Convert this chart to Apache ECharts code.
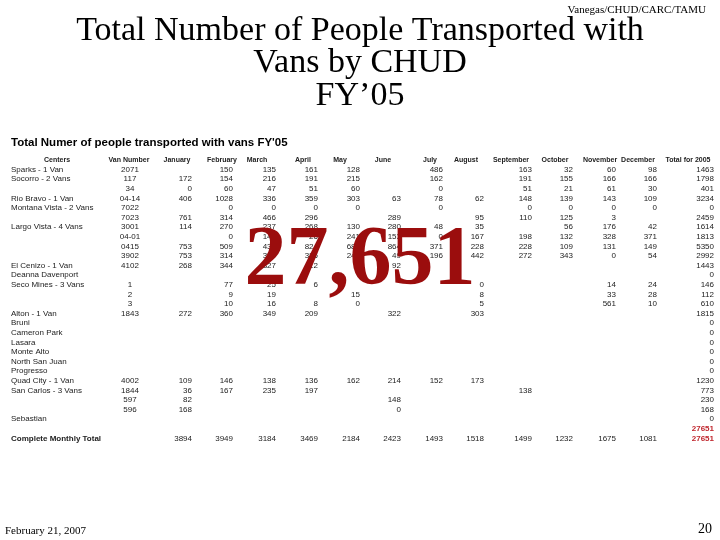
<!DOCTYPE html>
<html>
<head>
<meta charset="utf-8">
<script src="https://cdn.jsdelivr.net/npm/echarts@6/dist/echarts.min.js"></script>
<style>html,body{margin:0;padding:0;background:#fff}#main{width:720px;height:540px}</style>
</head>
<body>
<div id="main"></div>
<script>
// table data
const headers = ['Centers','Van Number','January','February','March','April','May','June','July','August','September','October','November','December','Total for 2005'];
const centers = ['Sparks - 1 Van','Socorro - 2 Vans','','Rio Bravo - 1 Van','Montana Vista - 2 Vans','','Largo Vista - 4 Vans','','','','El Cenizo - 1 Van','Deanna Davenport','Seco Mines - 3 Vans','','','Alton - 1 Van','Bruni','Cameron Park','Lasara','Monte Alto','North San Juan','Progresso','Quad City - 1 Van','San Carlos - 3 Vans','','','Sebastian','','Complete Monthly Total'];
const vanNumbers = ['2071','117','34','04-14','7022','7023','3001','04-01','0415','3902','4102','','1','2','3','1843','','','','','','','4002','1844','597','596','','',''];
const monthly = [
  [null,150,135,161,128,null,486,null,163,32,60,98],
  [172,154,216,191,215,null,162,null,191,155,166,166],
  [0,60,47,51,60,null,0,null,51,21,61,30],
  [406,1028,336,359,303,63,78,62,148,139,143,109],
  [null,0,0,0,0,null,0,null,0,0,0,0],
  [761,314,466,296,null,289,null,95,110,125,3,null],
  [114,270,237,268,130,280,48,35,null,56,176,42],
  [null,0,147,26,241,153,0,167,198,132,328,371],
  [753,509,431,824,683,864,371,228,228,109,131,149],
  [753,314,320,326,241,49,196,442,272,343,0,54],
  [268,344,327,412,null,92,null,null,null,null,null,null],
  [],
  [null,77,25,6,null,null,null,0,null,null,14,24],
  [null,9,19,null,15,null,null,8,null,null,33,28],
  [null,10,16,8,0,null,null,5,null,null,561,10],
  [272,360,349,209,null,322,null,303],
  [],[],[],[],[],[],
  [109,146,138,136,162,214,152,173],
  [36,167,235,197,null,null,null,null,138],
  [82,null,null,null,null,148],
  [168,null,null,null,null,0],
  [],
  [],
  [3894,3949,3184,3469,2184,2423,1493,1518,1499,1232,1675,1081]
];
const totals = [1463,1798,401,3234,0,2459,1614,1813,5350,2992,1443,0,146,112,610,1815,0,0,0,0,0,0,1230,773,230,168,0,27651,27651];

const headerX = [57,129,177,222,257,303,340,383,430,466,511,555,600,638,688];
const monthRight = [192,233,276,318,360,401,443,484,532,573,616,657];
const totalRight = 714;

const g = [];
const T = (x, y, text, style) => g.push({type:'text', x, y, style:Object.assign({text, fontFamily:'Liberation Sans, Arial', fontSize:8, fill:'#222', verticalAlign:'middle'}, style)});

T(706, 10, 'Vanegas/CHUD/CARC/TAMU', {fontFamily:'Liberation Serif', fontSize:11, fill:'#000', align:'right'});
['Total Number of People Transported with','Vans by CHUD','FY\u201905'].forEach((s, i) =>
  T(360, 31 + i * 32.5, s, {fontFamily:'Liberation Serif', fontSize:34, fill:'#000', align:'center'}));
T(11, 143, 'Total Numer of people transported with vans FY\'05', {fontSize:11.5, fontWeight:'bold', fill:'#000'});

headers.forEach((h, i) => T(headerX[i], 160, h, {fontSize:7, fontWeight:'bold', align:'center'}));

centers.forEach((c, r) => {
  const y = 169.5 + r * 9.6;
  const last = r === centers.length - 1;
  T(11, y, c, last ? {fontWeight:'bold', fontSize:8} : {});
  if (vanNumbers[r]) T(130, y, vanNumbers[r], {align:'center'});
  (monthly[r] || []).forEach((v, m) => { if (v !== null && v !== undefined) T(monthRight[m], y, String(v), {align:'right'}); });
  const red = totals[r] === 27651;
  T(totalRight, y, String(totals[r]), {align:'right', fill: red ? '#c0262d' : '#222', fontWeight: red ? 'bold' : 'normal'});
});

T(360, 262, '27,651', {fontFamily:'Liberation Serif', fontSize:84, fontWeight:'bold', fill:'#9b0d0d', align:'center'});
T(5, 531, 'February 21, 2007', {fontFamily:'Liberation Serif', fontSize:11, fill:'#000'});
T(712, 529, '20', {fontFamily:'Liberation Serif', fontSize:14, fill:'#000', align:'right'});

const chart = echarts.init(document.getElementById('main'));
chart.setOption({ animation:false, graphic: g });
</script>
</body>
</html>
